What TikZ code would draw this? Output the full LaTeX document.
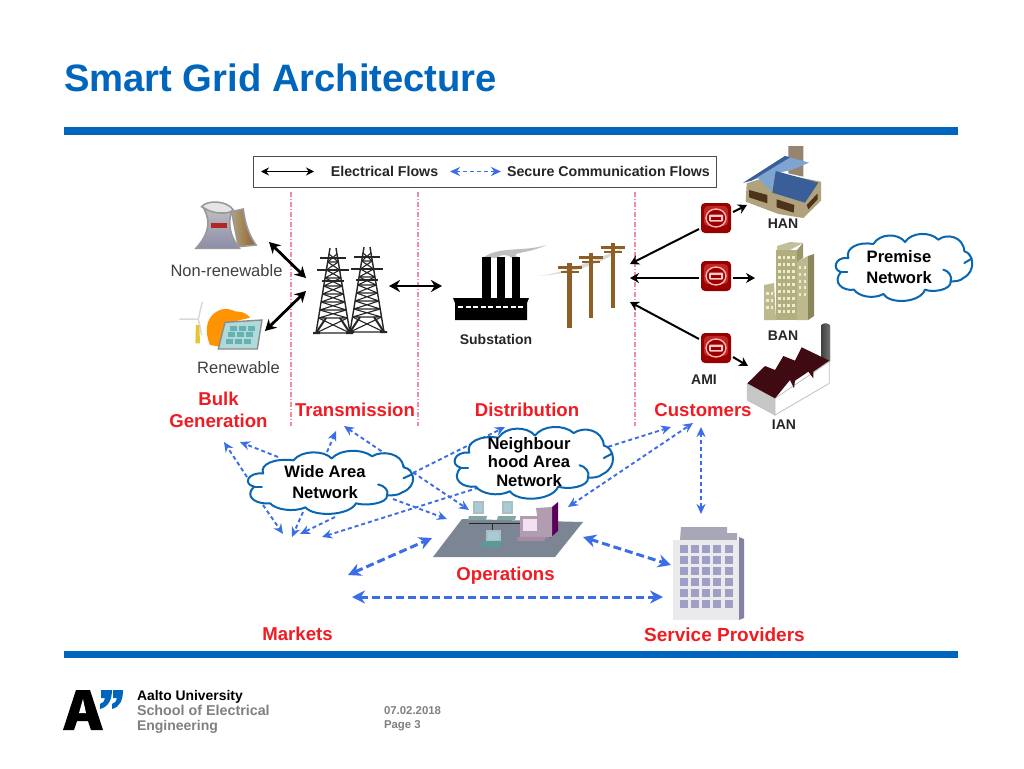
\documentclass[tikz,border=0pt]{standalone}
\usepackage{fontspec}
\setmainfont{Liberation Sans}
\usetikzlibrary{arrows.meta}
\definecolor{aaltoblue}{HTML}{0065BD}
\definecolor{flowblue}{HTML}{3B6DE8}
\definecolor{stagered}{HTML}{F01C24}
\definecolor{cloudblue}{HTML}{0A66B0}
\definecolor{pinkline}{HTML}{F08CA4}
\definecolor{polebrown}{HTML}{8F5E24}
\definecolor{slate}{HTML}{7B8594}
\definecolor{screenblue}{HTML}{A9CBD8}
\definecolor{maroon}{HTML}{3F0A12}
\definecolor{rooflight}{HTML}{7EA4D2}
\definecolor{roofdark}{HTML}{3A5F98}
\definecolor{walltan}{HTML}{B0A27C}
\tikzset{
  x=1pt,y=-1pt,
  every node/.style={inner sep=0pt,outer sep=0pt},
  rulebar/.style={fill=aaltoblue,draw=none},
  stagelabel/.style={font=\fontsize{18.6}{22}\selectfont\bfseries,text=stagered,align=center},
  blacklabel/.style={font=\fontsize{14}{16}\selectfont\bfseries,text=black!85},
  greylabel/.style={font=\fontsize{16.5}{18}\selectfont,text=black!75},
  cloudtext/.style={text=black,align=center,font=\fontsize{16.6}{20.5}\selectfont\bfseries},
  cloudline/.style={draw=cloudblue,line width=2pt,line cap=round,line join=round},
  thinflow/.style={draw=flowblue,line width=1.9pt,dash pattern=on 4pt off 3pt,{Stealth[length=10pt,width=9pt]}-{Stealth[length=10pt,width=9pt]}},
  oneflow/.style={draw=flowblue,line width=1.9pt,dash pattern=on 4pt off 3pt,-{Stealth[length=10pt,width=9pt]}},
  thickflow/.style={draw=flowblue,line width=3pt,dash pattern=on 8pt off 4pt,{Stealth[length=13pt,width=13pt]}-{Stealth[length=13pt,width=13pt]}},
  powerflow/.style={draw=black,line width=2.8pt,{Stealth[length=11pt,width=12pt]}-{Stealth[length=11pt,width=12pt]}},
  feedflow/.style={draw=black,line width=2pt,-{Stealth[length=9pt,width=10pt]}},
  stageline/.style={draw=pinkline,line width=1.2pt,dash pattern=on 5pt off 2pt on 1pt off 2pt},
}
\newcommand{\towerat}[2]{%
 \begin{scope}[shift={(#1,#2)},draw=black!85,line width=1.1pt]
  \draw[line width=1.4pt] (-3,0) -- (-17,85) (3,0) -- (17,85);
  \draw[line width=2pt] (-13,10) -- (13,10) (-16,22) -- (16,22) (-11,33) -- (11,33);
  \foreach \a/\b in {6/14,14/22,22/30,30/38,38/46,46/54,54/62,62/70,70/85}{
    \pgfmathsetmacro{\wa}{3+14*\a/85}\pgfmathsetmacro{\wb}{3+14*\b/85}
    \draw (-\wa,\a) -- (\wb,\b) (\wa,\a) -- (-\wb,\b) (-\wb,\b) -- (\wb,\b);
  }
  \draw[line width=2pt] (-17,85) -- (-7,70) (17,85) -- (7,70) (-20,85)--(-13,85) (13,85)--(20,85);
 \end{scope}}
\newcommand{\meterat}[2]{%
 \fill[rounded corners=4pt,fill=red!60!black] (#1-15,#2-15) rectangle (#1+15,#2+15);
 \fill[rounded corners=4pt,fill=red!70!black!85] (#1-12,#2-12) rectangle (#1+12,#2+8);
 \draw[white!70!red,line width=1.4pt,fill=red!60!black] (#1,#2) ellipse (10 and 9);
 \fill[white!78!red,rounded corners=1pt] (#1-7,#2-3.5) rectangle (#1+7,#2+3.5);
 \fill[red!60!black] (#1-5,#2-1.5) rectangle (#1+5,#2+1.5);}
\newcommand{\poleat}[2]{%
 \fill[polebrown] (#1-2.3,#2) rectangle (#1+2.3,#2+65);
 \fill[polebrown] (#1-12,#2+3) rectangle (#1+12,#2+5.5);
 \fill[polebrown] (#1-9,#2+8) rectangle (#1+9,#2+9.5);}
\newcommand{\cloudat}[4]{%
 \begin{scope}[shift={(#1,#2)},x=#3pt/3,y=-#4pt/3]
  \path[cloudline,fill=white] (55,90) .. controls (45,60) and (85,40) .. (130,48)
   .. controls (150,15) and (205,15) .. (225,42)
   .. controls (245,12) and (300,10) .. (325,35)
   .. controls (350,15) and (400,25) .. (403,70)
   .. controls (430,75) and (440,130) .. (400,150)
   .. controls (390,160) and (375,160) .. (362,160)
   .. controls (365,185) and (310,195) .. (285,185)
   .. controls (270,225) and (180,230) .. (160,198)
   .. controls (130,215) and (85,205) .. (72,185)
   .. controls (40,190) and (5,165) .. (33,132)
   .. controls (5,125) and (15,85) .. (55,90) -- cycle;
  \path[cloudline] (33,132) -- (52,132);
  \path[cloudline] (362,160) .. controls (368,145) and (355,128) .. (340,125);
  \path[cloudline] (403,105) -- (425,92);
 \end{scope}}
\begin{document}
\begin{tikzpicture}
\useasboundingbox (0,0) rectangle (1024,768);
\fill[white] (0,0) rectangle (1024,768);
% title and bars
\node[anchor=base west,text=aaltoblue,font=\fontsize{38.2}{40}\selectfont\bfseries] (title) at (64,91) {Smart Grid Architecture};
\path[rulebar] (64,127) rectangle (958,134.5);
\path[rulebar] (64,651) rectangle (958,658);
% stage lines
\coordinate (s1t) at (291,192); \coordinate (s1b) at (291,426);
\coordinate (s2t) at (418,192); \coordinate (s2b) at (418,426);
\coordinate (s3t) at (635,192); \coordinate (s3b) at (635,426);
\draw[stageline] (s1t) -- (s1b);
\draw[stageline] (s2t) -- (s2b);
\draw[stageline] (s3t) -- (s3b);
% legend
\draw[draw=black!70,line width=1pt,fill=white] (253,156) rectangle (716,187);
\coordinate (le1) at (261,171.5); \coordinate (le2) at (314,171.5);
\coordinate (lb1) at (450,171.5); \coordinate (lb2) at (501,171.5);
\draw[draw=black,line width=1.6pt,{Stealth[length=8pt,width=8pt]}-{Stealth[length=8pt,width=8pt]}] (le1) -- (le2);
\draw[thinflow] (lb1) -- (lb2);
\node[font=\fontsize{14.2}{16}\selectfont\bfseries,text=black!85] (elec) at (384.5,171.5) {Electrical Flows};
\node[font=\fontsize{14.2}{16}\selectfont\bfseries,text=black!85] (sec) at (608.5,171.5) {Secure Communication Flows};
% non-renewable icon
\begin{scope}[shift={(170,195)},x=1pt/3,y=-1pt/3]
 \filldraw[draw=black!40,line width=1.6pt,fill=black!10] (95,35) .. controls (110,15) and (170,15) .. (190,45) -- (150,70) -- cycle;
 \filldraw[draw=black!40,line width=1.6pt,left color=walltan,right color=brown!75!black] (185,50) -- (220,42) .. controls (225,90) and (240,125) .. (258,150) -- (205,155) -- cycle;
 \filldraw[draw=black!40,line width=1.6pt,top color=black!25,bottom color=blue!25!black!45] (100,38) .. controls (125,55) and (160,58) .. (185,50) .. controls (170,90) and (185,130) .. (208,160) -- (78,160) .. controls (105,130) and (130,90) .. (100,38) -- cycle;
 \fill[red!65!black!85] (123,85) -- (172,85) -- (172,100) -- (123,100) -- cycle;
\end{scope}
% renewable icon
\begin{scope}[shift={(170,195)},x=1pt/3,y=-1pt/3]
 \draw[black!15,line width=1.5pt] (85,372) -- (97,320) (85,372) -- (28,372) (85,372) -- (95,420);
 \fill[yellow!55!brown] (78,390) -- (88,390) -- (90,445) -- (76,445) -- cycle;
 \fill[orange!85!yellow] (120,450) .. controls (100,400) and (110,355) .. (160,342) .. controls (185,340) and (195,352) .. (205,350) .. controls (220,350) and (235,360) .. (240,368) -- (170,385) -- (150,455) -- cycle;
 \filldraw[draw=black!45,line width=1.4pt,fill=teal!30] (165,382) -- (276,375) -- (262,462) -- (145,462) -- cycle;
 \foreach \i in {0,1,2}{\foreach \j in {0,1,2}{\fill[teal!60] (180+\i*27-\j*6,392+\j*20) rectangle (202+\i*27-\j*6,407+\j*20);}}
\end{scope}
\node[greylabel] (nonren) at (226.5,271) {Non-renewable};
\node[greylabel] (ren) at (238.5,368) {Renewable};
% towers
\towerat{333}{248}
\towerat{367}{247}
\coordinate (nrA) at (269,242); \coordinate (twA) at (306,278);
\coordinate (reA) at (265,331); \coordinate (twB) at (306,291);
\coordinate (twC) at (389,286); \coordinate (ssA) at (442,286);
\draw[powerflow] (nrA) -- (twA);
\draw[powerflow] (reA) -- (twB);
\draw[powerflow] (twC) -- (ssA);
% substation
\fill[black!25] (484,257) .. controls (500,246) and (525,252) .. (546,245) .. controls (530,254) and (505,252) .. (520,258) -- (512,258) .. controls (508,254) and (500,254) .. (497,258) -- cycle;
\fill[black] (482,257) rectangle (491,299);
\fill[black] (497,257) rectangle (505,299);
\fill[black] (512,257) rectangle (520,299);
\fill[black] (453,298) -- (529,298) -- (527,303) -- (527,320) -- (455,320) -- (455,303) -- cycle;
\draw[white,line width=1.2pt,dash pattern=on 5pt off 2.5pt] (458,307) -- (524,307);
\node[blacklabel] (subs) at (496,339) {Substation};
% poles
\fill[black!15] (538,276) .. controls (560,274) and (590,262) .. (625,247) .. controls (600,265) and (570,274) .. (538,276);
\poleat{569.5}{263}
\poleat{591}{253}
\poleat{613}{243}
% meters
\meterat{716}{218}
\meterat{716}{276}
\meterat{716}{348}
\coordinate (m1w) at (699,229); \coordinate (pA) at (630,264);
\coordinate (m2w) at (699,278); \coordinate (pB) at (630,278);
\coordinate (m3w) at (699,339); \coordinate (pC) at (630,302);
\draw[feedflow] (m1w) -- (pA);
\draw[feedflow] (m2w) -- (pB);
\draw[feedflow] (m3w) -- (pC);
\coordinate (m1e) at (733,212); \coordinate (han) at (747,205);
\coordinate (m2e) at (733,278); \coordinate (ban) at (755,278);
\coordinate (m3e) at (733,357); \coordinate (ian) at (748,366);
\draw[feedflow] (m1e) -- (han);
\draw[feedflow] (m2e) -- (ban);
\draw[feedflow] (m3e) -- (ian);
% house
\begin{scope}[shift={(735,140)},x=1pt/3,y=-1pt/3]
 \fill[brown!50!black!65] (160,18) -- (205,18) -- (205,110) -- (160,100) -- cycle;
 \fill[walltan] (35,130) -- (32,185) -- (130,222) -- (205,234) -- (258,182) -- (258,125) -- (130,100) -- cycle;
 \fill[brown!40!black] (42,150) -- (97,165) -- (97,190) -- (42,172) -- cycle;
 \fill[brown!40!black] (125,178) -- (178,195) -- (176,218) -- (125,202) -- cycle;
 \fill[brown!40!black] (215,195) -- (248,160) -- (248,178) -- (220,208) -- cycle;
 \fill[rooflight] (25,128) -- (150,48) -- (222,68) -- (170,90) -- (120,100) -- (110,155) -- (70,115) -- cycle;
 \fill[roofdark] (25,128) -- (150,48) -- (165,52) -- (50,122) -- cycle;
 \fill[roofdark] (122,93) -- (250,128) -- (210,188) -- (112,158) -- cycle;
\end{scope}
% BAN building
\fill[olive!35!gray!55] (777,246) -- (790,242) -- (803,243) -- (790,250) -- (777,250) -- cycle;
\fill[olive!40!gray!60] (764,285) -- (774,283) -- (776,320) -- (764,320) -- cycle;
\fill[olive!40!gray!70] (776,250) rectangle (797,320);
\fill[olive!40!gray!60] (797,262) -- (808,256) -- (808,320) -- (797,320) -- cycle;
\fill[olive!50!black!70] (808,256) -- (814,254) -- (814,316) -- (808,320) -- cycle;
\fill[olive!50!black!60] (797,250) -- (803,243) -- (803,258) -- (797,262) -- cycle;
\foreach \i in {0,1,2,3}{\foreach \j in {0,...,8}{\fill[white!85!olive] (778+\i*4.7,256+\j*6.8) rectangle (780.5+\i*4.7,259+\j*6.8);}}
\foreach \j in {0,...,4}{\foreach \i in {0,1}{\fill[white!85!olive] (799+\i*4.5,266+\j*6.8) rectangle (801+\i*4.5,269+\j*6.8);}}
\foreach \j in {0,1,2}{\foreach \i in {0,1}{\fill[white!85!olive] (766+\i*4.5,292+\j*7) rectangle (768.5+\i*4.5,295+\j*7);}}
% factory
\begin{scope}[shift={(740,320)},x=1pt/3,y=-1pt/3]
 \fill[left color=black!75,right color=black!55] (243,18) .. controls (243,8) and (270,8) .. (270,18) -- (270,125) -- (243,110) -- cycle;
 \filldraw[draw=black!25,line width=.8pt,fill=black!22] (22,192) -- (105,235) -- (105,285) -- (22,240) -- cycle;
 \filldraw[draw=black!25,line width=.8pt,fill=white] (105,235) -- (268,125) -- (268,190) -- (105,285) -- cycle;
 \fill[maroon] (22,190) -- (75,138) -- (105,150) -- (130,108) -- (165,122) -- (185,82) -- (268,122) -- (220,155) -- (220,175) -- (205,155) -- (165,182) -- (162,205) -- (150,180) -- (105,235) -- cycle;
\end{scope}
\node[blacklabel] (hanl) at (783,223.5) {HAN};
\node[blacklabel] (banl) at (783,336) {BAN};
\node[blacklabel] (amil) at (704,379.5) {AMI};
\node[blacklabel] (ianl) at (784,425) {IAN};
% stage labels
\node[stagelabel,font=\fontsize{18.6}{22.5}\selectfont\bfseries] (bulk) at (218.5,410) {Bulk\\Generation};
\node[stagelabel] (trans) at (355,410) {Transmission};
\node[stagelabel] (dist) at (527,410) {Distribution};
\node[stagelabel] (cust) at (703,410) {Customers};
\node[stagelabel] (ops) at (505.5,576) {Operations};
\node[stagelabel] (mkts) at (297.5,634) {Markets};
\node[stagelabel,font=\fontsize{19}{22}\selectfont\bfseries] (serv) at (724.5,634.5) {Service Providers};
% operations platform
\fill[slate] (433,557) -- (462,519) -- (583,522) -- (555,557) -- cycle;
\draw[black!85,line width=1pt] (469,523) -- (520,523) (492,523) -- (492,532);
\foreach \x in {478,507}{
 \fill[teal!30!gray!50] (\x-5,501) rectangle (\x+6,514);
 \fill[screenblue] (\x-3,503) rectangle (\x+4,512);
 \fill[teal!40!gray!70] (\x-9,516) -- (\x+9,516) -- (\x+8,520) -- (\x-10,520) -- cycle;}
\fill[teal!30!gray!50] (486,530) rectangle (501,541);
\fill[screenblue] (488,532) rectangle (499,540);
\fill[teal!60!gray!80] (483,541) -- (503,541) -- (500,547) -- (481,547) -- cycle;
\fill[violet!70!black] (552,507) -- (558,502) -- (558,531) -- (550,538) -- cycle;
\fill[violet!30!gray!60] (536,508) -- (552,507) -- (552,537) -- (540,537) -- cycle;
\fill[violet!30!gray!60] (520,516) rectangle (540,537);
\fill[violet!12] (523,519) rectangle (537,531);
\fill[violet!30!gray!70] (517,537) -- (546,537) -- (544,541) -- (518,541) -- cycle;
% service building
\fill[black!25!blue!15!gray!60] (681,527) -- (727,527) -- (727,533) -- (737,533) -- (737,540) -- (680,540) -- cycle;
\fill[blue!8!gray!15] (673,540) -- (739,540) -- (739,620) -- (673,620) -- cycle;
\fill[blue!15!gray!85] (739,537) -- (744,539) -- (744,618) -- (739,620) -- cycle;
\foreach \i in {0,...,4}{\foreach \j in {0,...,5}{\fill[blue!25!gray!60] (679.5+\i*11.3,545+\j*11) rectangle (687.5+\i*11.3,552.5+\j*11);}}
% communication flows
\coordinate (fa1) at (247,477); \coordinate (fa2) at (224,442);
\coordinate (fb1) at (278,457); \coordinate (fb2) at (240,442);
\coordinate (fc1) at (327,452); \coordinate (fc2) at (336,431);
\coordinate (fd1) at (344,426); \coordinate (fd2) at (469,510);
\coordinate (fe1) at (393,499); \coordinate (fe2) at (447,519);
\coordinate (ff1) at (263,505); \coordinate (ff2) at (283,534);
\coordinate (fg1) at (303,512); \coordinate (fg2) at (292,537);
\coordinate (fh1) at (335,517); \coordinate (fh2) at (300,534);
\coordinate (fi1) at (413,473); \coordinate (fi2) at (505,427);
\coordinate (fj1) at (322,537); \coordinate (fj2) at (671,427);
\coordinate (fk1) at (568,507); \coordinate (fk2) at (693,423);
\coordinate (fl1) at (701,427); \coordinate (fl2) at (701,514);
\coordinate (fm1) at (348,575); \coordinate (fm2) at (432,538);
\coordinate (fn1) at (583,537); \coordinate (fn2) at (671,565);
\coordinate (fo1) at (352,597); \coordinate (fo2) at (663,597);
\draw[oneflow] (fa1) -- (fa2);
\draw[oneflow] (fb1) -- (fb2);
\draw[oneflow] (fc1) -- (fc2);
\draw[thinflow] (fd1) -- (fd2);
\draw[oneflow] (fe1) -- (fe2);
\draw[oneflow] (ff1) -- (ff2);
\draw[oneflow] (fg1) -- (fg2);
\draw[oneflow] (fh1) -- (fh2);
\draw[oneflow] (fi1) -- (fi2);
\draw[thinflow] (fj1) -- (fj2);
\draw[thinflow] (fk1) -- (fk2);
\draw[thinflow] (fl1) -- (fl2);
\draw[thickflow] (fm1) -- (fm2);
\draw[thickflow] (fn1) -- (fn2);
\draw[thickflow] (fo1) -- (fo2);
% clouds
\cloudat{241}{445.3}{1.21}{0.94}
\node[cloudtext] (wan) at (325,482) {Wide Area\\Network};
\cloudat{448}{420.6}{1.16}{1.07}
\node[cloudtext,font=\fontsize{16.6}{18.8}\selectfont\bfseries] (nan) at (529,462) {Neighbour\\hood Area\\Network};
\cloudat{830}{228}{1}{1}
\node[cloudtext] (pn) at (899,267) {Premise\\Network};
% footer
\fill[black] (63,730) -- (76,690) -- (90,690) -- (103,730) -- (91,730) -- (88,721) -- (77,721) -- (74,730) -- cycle;
\fill[white] (79,713) -- (83,699) -- (86,713) -- cycle;
\fill[aaltoblue] (101,690) -- (112,690) .. controls (112,700) and (108,707) .. (100,709) -- (100,704) .. controls (103,703) and (105,701) .. (105,698) -- (101,698) -- cycle;
\fill[aaltoblue] (113,690) -- (123,690) .. controls (123,700) and (120,707) .. (112,709) -- (112,704) .. controls (115,703) and (117,701) .. (117,698) -- (113,698) -- cycle;
\node[anchor=base west,font=\fontsize{13.9}{15}\selectfont\bfseries,text=black] (f1) at (137,700) {Aalto University};
\node[anchor=base west,font=\fontsize{14.3}{15}\selectfont\bfseries,text=black!50] (f2) at (137,715) {School of Electrical};
\node[anchor=base west,font=\fontsize{14}{15}\selectfont\bfseries,text=black!50] (f3) at (137,730) {Engineering};
\node[anchor=base west,font=\fontsize{11.4}{13}\selectfont\bfseries,text=black!50] (f4) at (384,714) {07.02.2018};
\node[anchor=base west,font=\fontsize{11.4}{13}\selectfont\bfseries,text=black!50] (f5) at (384,728) {Page 3};
\end{tikzpicture}
\end{document}
